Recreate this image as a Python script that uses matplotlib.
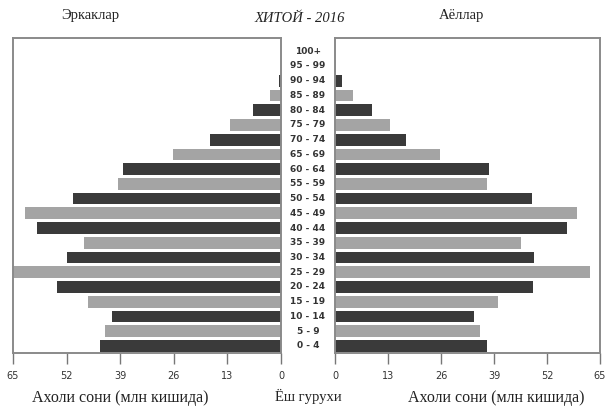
import matplotlib
matplotlib.use("Agg")
import matplotlib.pyplot as plt
import matplotlib.transforms as mtransforms

# age groups, bottom to top
ages = ["0 - 4", "5 - 9", "10 - 14", "15 - 19", "20 - 24", "25 - 29", "30 - 34",
        "35 - 39", "40 - 44", "45 - 49", "50 - 54", "55 - 59", "60 - 64", "65 - 69",
        "70 - 74", "75 - 79", "80 - 84", "85 - 89", "90 - 94", "95 - 99", "100+"]
# millions of people
men = [43.8, 42.6, 41.0, 46.9, 54.4, 65.0, 51.8, 47.9, 59.3, 62.1, 50.4,
       39.5, 38.4, 26.2, 17.2, 12.3, 6.9, 2.7, 0.6, 0.1, 0.0]
women = [37.3, 35.5, 34.1, 40.0, 48.5, 62.6, 48.9, 45.6, 56.8, 59.3, 48.3,
         37.3, 37.7, 25.7, 17.5, 13.4, 9.1, 4.3, 1.6, 0.2, 0.0]
ticks = [0, 13, 26, 39, 52, 65]

dark, light = "#3a3a3a", "#a4a4a4"
colors = [dark if i % 2 == 0 else light for i in range(len(ages))]
serif = "Liberation Serif"

W, H = 606, 407
fig = plt.figure(figsize=(W / 100, H / 100), dpi=100, facecolor="white")

top, bottom = 38, 353
axl = fig.add_axes([13 / W, 1 - bottom / H, (281 - 13) / W, (bottom - top) / H])
axr = fig.add_axes([335 / W, 1 - bottom / H, (600 - 335) / W, (bottom - top) / H])

y = list(range(len(ages)))
axl.barh(y, men, height=0.8, color=colors)
axr.barh(y, women, height=0.8, color=colors)

axl.set_xlim(65, 0)
axr.set_xlim(0, 65)
for ax in (axl, axr):
    ax.set_ylim(-0.48, 20.9)
    ax.set_yticks([])
    ax.set_xticks(ticks)
    ax.set_xticklabels([str(t) for t in ticks], fontsize=7, color="#333333")
    ax.tick_params(axis="x", direction="out", length=8, width=1, color="#777777", pad=5)
    for s in ax.spines.values():
        s.set_color("#8a8a8a")
        s.set_linewidth(1.4)

# age group labels in the gap between the two halves
tr = mtransforms.blended_transform_factory(fig.transFigure, axl.transData)
for yi, lab in zip(y, ages):
    axl.text(308 / W, yi, lab, transform=tr, ha="center", va="center",
             fontsize=6.5, color="#333333", fontweight="semibold", clip_on=False)

txt = dict(ha="center", va="center", fontsize=10.5, family=serif, color="#222222")
fig.text(120 / W, 1 - 398 / H, "Ахоли сони (млн кишида)", **{**txt, "fontsize": 11.5})
fig.text(496 / W, 1 - 398 / H, "Ахоли сони (млн кишида)", **{**txt, "fontsize": 11.5})
fig.text(308 / W, 1 - 396 / H, "Ёш гурухи", **txt)
fig.text(90 / W, 1 - 16 / H, "Эркаклар", **txt)
fig.text(300 / W, 1 - 19 / H, "ХИТОЙ - 2016", style="italic", **txt)
fig.text(462 / W, 1 - 16 / H, "Аёллар", **txt)

fig.savefig("out.png", dpi=100, facecolor="white")
